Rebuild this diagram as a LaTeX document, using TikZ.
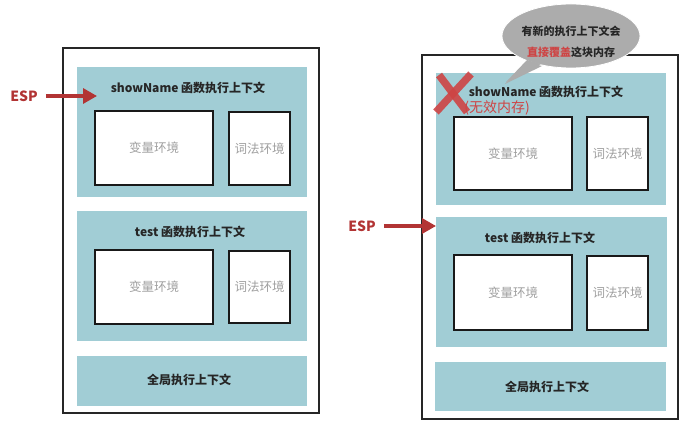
\documentclass[tikz,border=0pt]{standalone}
\usepackage{fontspec}
\setmainfont{Noto Sans CJK SC}
\usetikzlibrary{arrows.meta,shapes.geometric}
\definecolor{tealbg}{RGB}{161,205,213}
\definecolor{espred}{RGB}{178,52,52}
\definecolor{xred}{RGB}{206,68,68}
\definecolor{envgray}{RGB}{160,160,160}
\definecolor{bubblegray}{RGB}{172,172,172}
\tikzset{
  frame/.style={draw=black!85, line width=1.4pt, fill=white, inner sep=0pt},
  tealbox/.style={fill=tealbg, draw=none, inner sep=0pt},
  envbox/.style={draw=black!90, line width=1.4pt, fill=white, inner sep=0pt, text=envgray, font=\fontsize{12.5}{14}\selectfont},
  title/.style={font=\fontsize{12}{14}\selectfont\bfseries, text=black!85, inner sep=0pt},
  esplabel/.style={font=\fontsize{14}{16}\selectfont\bfseries, text=espred, inner sep=1pt},
  esparrow/.style={draw=espred, line width=3.2pt, -{Triangle[length=14pt,width=15pt]}},
}
\begin{document}
\begin{tikzpicture}[x=1pt,y=-1pt]
\useasboundingbox (0,0) rectangle (699,427);
\fill[white] (0,0) rectangle (699,427);

% ---------------- left panel ----------------
\node[frame, minimum width=256pt, minimum height=365pt] (lframe) at (191,230.5) {};
\node[tealbox, minimum width=230pt, minimum height=130pt] (lshow) at (192,132) {};
\node[title] (lshowt) at (188,88) {showName 函数执行上下文};
\node[envbox, minimum width=118pt, minimum height=74pt] (lvar1) at (154,148) {变量环境};
\node[envbox, minimum width=61pt, minimum height=73pt] (llex1) at (259.5,148.5) {词法环境};

\node[tealbox, minimum width=230pt, minimum height=130pt] (ltest) at (192,276) {};
\node[title] (ltestt) at (190,232) {test 函数执行上下文};
\node[envbox, minimum width=118pt, minimum height=74pt] (lvar2) at (154,287) {变量环境};
\node[envbox, minimum width=61pt, minimum height=72pt] (llex2) at (259.5,287) {词法环境};

\node[tealbox, minimum width=230pt, minimum height=50pt] (lglob) at (192,381) {};
\node[title] (lglobt) at (189,380) {全局执行上下文};

\node[esplabel] (espL) at (24,96) {ESP};
\coordinate (espLtip) at (97,96);
\draw[esparrow] (espL.east) ++(7,0) -- (espLtip);

% ---------------- right panel ----------------
\node[frame, minimum width=256pt, minimum height=364pt] (rframe) at (550,237) {};
\node[tealbox, minimum width=230pt, minimum height=132pt] (rshow) at (551,139) {};
\node[title] (rshowt) at (546,92) {showName 函数执行上下文};
\node[envbox, minimum width=118pt, minimum height=73pt] (rvar1) at (513,153.5) {变量环境};
\node[envbox, minimum width=61pt, minimum height=73pt] (rlex1) at (617.5,153.5) {词法环境};

\node[tealbox, minimum width=231pt, minimum height=130pt] (rtest) at (551.5,282) {};
\node[title] (rtestt) at (540,238) {test 函数执行上下文};
\node[envbox, minimum width=118pt, minimum height=75pt] (rvar2) at (513,292.5) {变量环境};
\node[envbox, minimum width=61pt, minimum height=74pt] (rlex2) at (617.5,293) {词法环境};

\node[tealbox, minimum width=231pt, minimum height=49pt] (rglob) at (550.5,386.5) {};
\node[title] (rglobt) at (547,387) {全局执行上下文};

\node[esplabel] (espR) at (362,226) {ESP};
\coordinate (espRtip) at (436,226);
\draw[esparrow] (espR.east) ++(7,0) -- (espRtip);

% red cross and invalid-memory label
\draw[xred, opacity=0.9, line width=7.5pt] (439,75) -- (467,112);
\draw[xred, opacity=0.9, line width=7.5pt] (471,74) -- (436,112);
\node[font=\fontsize{14}{16}\selectfont, text=xred, inner sep=0pt] (invalid) at (497,108) {(无效内存)};

% speech bubble
\fill[bubblegray] (526,62) -- (505,84) -- (542,66) -- cycle;
\node[ellipse, fill=bubblegray, draw=white, line width=0.8pt, minimum width=138pt, minimum height=64pt, inner sep=0pt] (bubble) at (571,36) {};
\fill[bubblegray] (527,60) -- (506,82) -- (541,64) -- cycle;
\node[font=\fontsize{11}{13}\selectfont\bfseries, text=black!85, inner sep=0pt] (b1) at (571,31) {有新的执行上下文会};
\node[font=\fontsize{11}{13}\selectfont\bfseries, text=black!85, inner sep=0pt] (b2) at (571,52) {\textcolor{xred}{直接覆盖}这块内存};
\end{tikzpicture}
\end{document}
